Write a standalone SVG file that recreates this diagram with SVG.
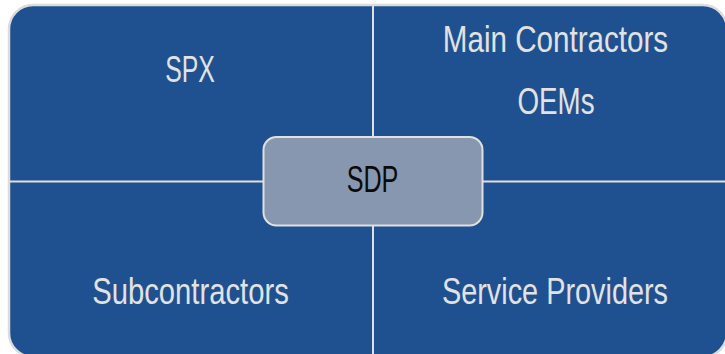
<svg xmlns="http://www.w3.org/2000/svg" width="725" height="354" viewBox="0 0 725 354">
<style>
.lbl{font-family:"Liberation Sans",Arial,sans-serif;font-size:37px;fill:#E2E2E2;text-anchor:middle}
.dark{fill:#0A0A0A}
.div{stroke:#E0E0E0;stroke-width:2;fill:none}
</style>
<rect x="0" y="0" width="725" height="354" fill="#FFFFFF"/>
<g id="panel">
<rect x="9" y="5" width="718" height="352" rx="24" ry="24" fill="#1F5190" stroke="#DCDCDC" stroke-width="2.5"/>
</g>
<g id="connectors">
<line class="div" x1="373" y1="5" x2="373" y2="354"/>
<line class="div" x1="9" y1="181.5" x2="725" y2="181.5"/>
</g>
<g id="spx"><text class="lbl" transform="translate(190,82) scale(0.67,1)">SPX</text></g>
<g id="main-contractors">
<text class="lbl" transform="translate(555.5,52) scale(0.8,1)">Main Contractors</text>
<text class="lbl" transform="translate(556,114) scale(0.75,1)">OEMs</text>
</g>
<g id="subcontractors"><text class="lbl" transform="translate(190.5,304) scale(0.79,1)">Subcontractors</text></g>
<g id="service-providers"><text class="lbl" transform="translate(555,304) scale(0.78,1)">Service Providers</text></g>
<g id="sdp">
<rect x="263.5" y="137" width="219" height="88.5" rx="13" ry="13" fill="#8797B0" stroke="#E0E0E0" stroke-width="2"/>
<text class="lbl dark" transform="translate(372.5,192) scale(0.68,1)">SDP</text>
</g>
</svg>
